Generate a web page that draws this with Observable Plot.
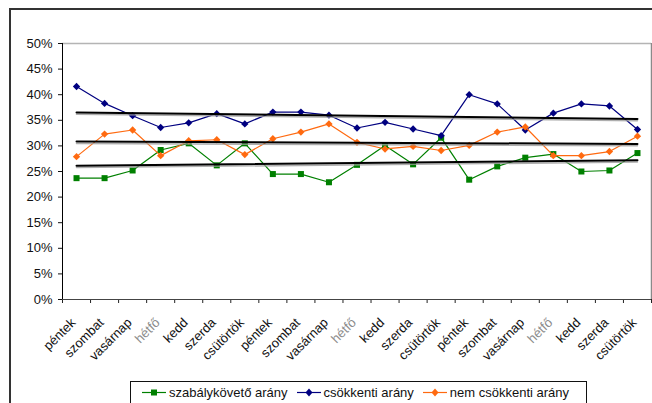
<!DOCTYPE html>
<html>
<head>
<meta charset="utf-8">
<script src="https://cdn.jsdelivr.net/npm/d3@7"></script>
<script src="https://cdn.jsdelivr.net/npm/@observablehq/plot@0.6"></script>
<style>
  body { margin: 0; background: #fff; }
  #wrap { position: relative; width: 652px; height: 403px; overflow: hidden; font-family: "Liberation Sans", Arial, sans-serif; color: #111; }
  #frame { position: absolute; left: 9px; top: 8px; width: 700px; height: 500px; border-left: 2px solid #333; border-top: 2px solid #333; box-sizing: border-box; }
  #chart { position: absolute; left: 0; top: 0; }
  #legend { position: absolute; left: 130px; top: 381px; width: 457px; height: 30px; border: 1px solid #111; box-sizing: border-box; display: flex; align-items: center; padding: 0 0 8px 11px; font-size: 13px; line-height: 15px; background: #fff; }
  .item { display: flex; align-items: center; margin-right: 9px; }
  .item svg { margin-right: 3px; }
</style>
</head>
<body>
<div id="wrap">
  <div id="frame"></div>
  <div id="chart"></div>
  <div id="legend"></div>
</div>
<script>
// Day-of-week category labels along the x axis (three weeks)
const dayLabels = [
  "péntek", "szombat", "vasárnap", "hétfő", "kedd", "szerda", "csütörtök",
  "péntek", "szombat", "vasárnap", "hétfő", "kedd", "szerda", "csütörtök",
  "péntek", "szombat", "vasárnap", "hétfő", "kedd", "szerda", "csütörtök"
];

// Daily shares (fractions)
const szabalykoveto = [0.237, 0.237, 0.252, 0.292, 0.305, 0.262, 0.305, 0.245, 0.245, 0.229, 0.263,
                       0.301, 0.264, 0.316, 0.234, 0.260, 0.277, 0.284, 0.250, 0.252, 0.286];
const csokkenti     = [0.416, 0.383, 0.359, 0.336, 0.345, 0.363, 0.343, 0.366, 0.366, 0.360, 0.335,
                       0.346, 0.333, 0.320, 0.400, 0.382, 0.331, 0.364, 0.382, 0.378, 0.332];
const nemCsokkenti  = [0.279, 0.323, 0.331, 0.281, 0.310, 0.312, 0.283, 0.314, 0.327, 0.343, 0.307,
                       0.294, 0.299, 0.291, 0.301, 0.327, 0.337, 0.281, 0.281, 0.289, 0.319];

// Y axis ticks
const yTicks = [0, 0.05, 0.10, 0.15, 0.20, 0.25, 0.30, 0.35, 0.40, 0.45, 0.50];

const series = [
  { name: "szabálykövető arány", values: szabalykoveto, color: "#008000", symbol: "square",   r: 3.4 },
  { name: "csökkenti arány",     values: csokkenti,     color: "#000080", symbol: "diamond2", r: 3.3 },
  { name: "nem csökkenti arány", values: nemCsokkenti,  color: "#ff6a10", symbol: "diamond2", r: 3.3 }
];

const idx = dayLabels.map((_, i) => i);
const boundaries = d3.range(-0.5, dayLabels.length, 1);
const grayIdx = idx.filter(i => dayLabels[i] === "hétfő");
const darkIdx = idx.filter(i => dayLabels[i] !== "hétfő");

const labelAxis = (ticks, fill) => Plot.axisX({
  ticks, tickFormat: i => dayLabels[i], tickSize: 0, tickPadding: 21, tickRotate: -45,
  dx: -3, fill, fontSize: 13
});

const marks = [
  // plot-area border (top and right)
  Plot.ruleY([0.5], { stroke: "#b4b4b4", strokeWidth: 1.5 }),
  Plot.ruleX([dayLabels.length - 0.5], { stroke: "#8a8a8a", strokeWidth: 1.5 }),
  // y axis
  Plot.axisY({ ticks: yTicks, tickFormat: d3.format(".0%"), tickSize: 4, tickPadding: 6, color: "#111", fontSize: 13 }),
  Plot.ruleX([-0.5], { stroke: "#000" }),
  // x axis tick marks between categories
  Plot.axisX({ ticks: boundaries, tickSize: 4, tickFormat: () => "", color: "#222" }),
  // x axis labels
  labelAxis(darkIdx, "#111"),
  labelAxis(grayIdx, "#8c8c8c"),
  Plot.ruleY([0], { stroke: "#444", strokeWidth: 1.2 })
];

for (const s of series) {
  marks.push(
    Plot.line(s.values, { x: (d, i) => i, y: d => d, stroke: s.color, strokeWidth: 1.2 }),
    Plot.dot(s.values, { x: (d, i) => i, y: d => d, symbol: s.symbol, r: s.r, fill: s.color, stroke: "none" })
  );
}

// linear trend lines with a soft shadow
for (const s of series) {
  marks.push(
    Plot.linearRegressionY(s.values, { x: (d, i) => i, y: d => d, ci: 0, stroke: "#9a9a9a", strokeWidth: 1.5, strokeOpacity: 0.8, dy: 1.8 }),
    Plot.linearRegressionY(s.values, { x: (d, i) => i, y: d => d, ci: 0, stroke: "#000", strokeWidth: 2 })
  );
}

const chart = Plot.plot({
  width: 652,
  height: 381,
  marginLeft: 62,
  marginRight: 1,
  marginTop: 43,
  marginBottom: 82,
  style: { fontFamily: "'Liberation Sans', Arial, sans-serif", fontSize: "12px", background: "transparent", overflow: "visible" },
  x: { type: "linear", domain: [-0.5, dayLabels.length - 0.5], axis: null },
  y: { domain: [0, 0.5], axis: null },
  marks
});
document.getElementById("chart").appendChild(chart);

// legend
const legend = document.getElementById("legend");
for (const s of series) {
  const item = document.createElement("div");
  item.className = "item";
  const sym = s.symbol === "square"
    ? `<rect x="9" y="4.5" width="6" height="6" fill="${s.color}"/>`
    : `<path d="M12 3.5 L15.5 7.5 L12 11.5 L8.5 7.5 Z" fill="${s.color}"/>`;
  item.innerHTML = `<svg width="24" height="15"><line x1="0" x2="24" y1="7.5" y2="7.5" stroke="${s.color}" stroke-width="1.2"/>${sym}</svg><span>${s.name}</span>`;
  legend.appendChild(item);
}
</script>
</body>
</html>
